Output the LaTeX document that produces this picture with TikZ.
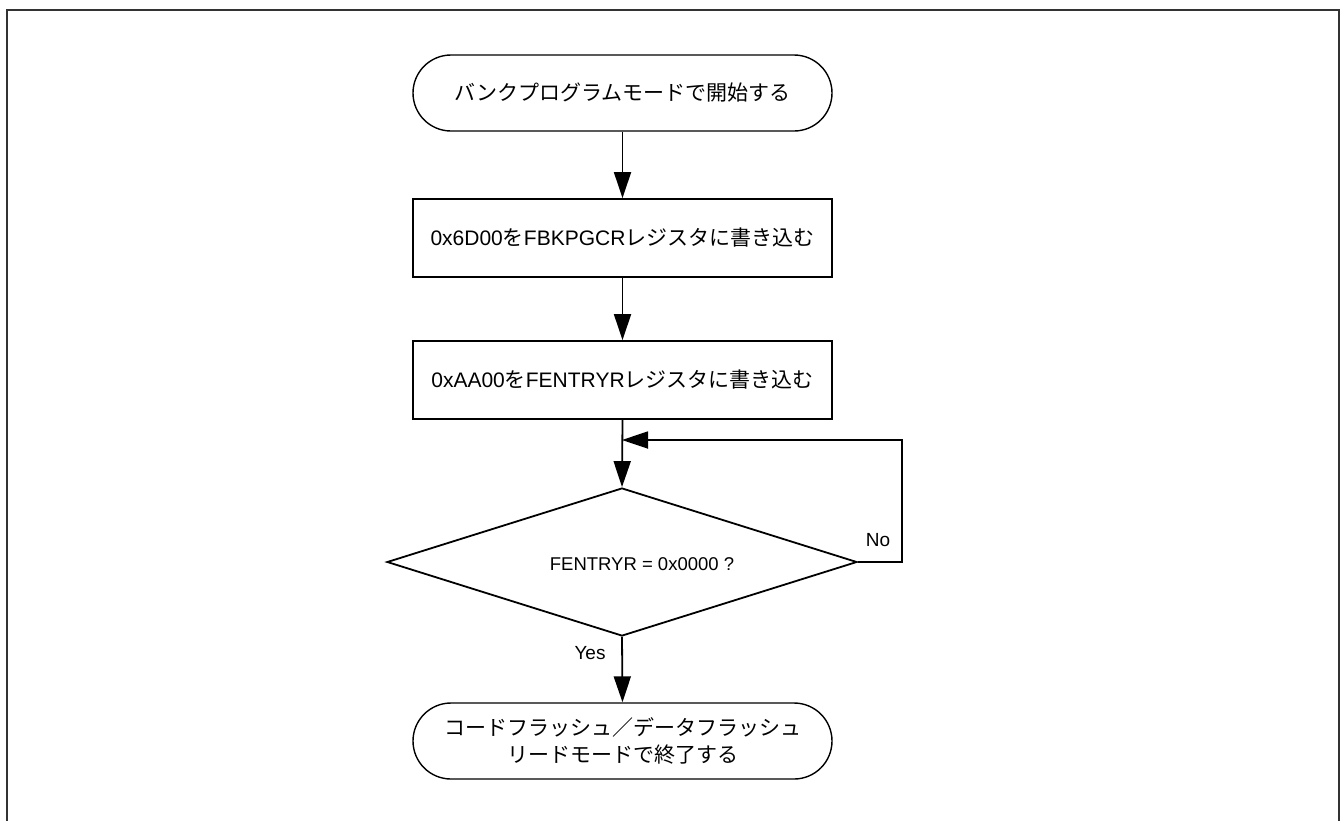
\documentclass[tikz,border=0pt]{standalone}
\usepackage{fontspec}
\setmainfont{Liberation Sans}
\newfontfamily\cjk{Noto Sans CJK JP}
\usetikzlibrary{shapes.geometric,arrows.meta}
\tikzset{
  flowline/.style={line width=1.8pt,black},
  flowarrow/.style={flowline,-{Triangle[length=26pt,width=17pt]}},
  term/.style={draw,line width=1.4pt,rounded corners=38pt,minimum width=419pt,minimum height=76pt,inner sep=0pt,align=center},
  procbox/.style={draw,line width=1.8pt,minimum width=419pt,minimum height=78pt,inner sep=0pt},
  decision/.style={draw,diamond,line width=1.8pt,minimum width=470pt,minimum height=148pt,inner sep=0pt},
  jp/.style={font=\fontsize{21}{27}\selectfont\cjk},
  lat/.style={font=\fontsize{21}{24}\selectfont},
  lbl/.style={font=\fontsize{19}{22}\selectfont,inner sep=0pt}
}
\begin{document}
\begin{tikzpicture}[x=1pt,y=-1pt]
\useasboundingbox (0,0) rectangle (1343,820);
\draw[line width=2.4pt,black!80] (7,10) rectangle (1339,840);
\node[term,jp] (start) at (622.5,93) {バンクプログラムモードで開始する};
\node[procbox,lat] (b1) at (622.5,238) {0x6D00{\fontsize{21}{24}\cjk を}FBKPGCR{\fontsize{21}{24}\cjk レジスタに書き込む}};
\node[procbox,lat] (b2) at (622.5,380) {0xAA00{\fontsize{21}{24}\cjk を}FENTRYR{\fontsize{21}{24}\cjk レジスタに書き込む}};
\node[decision] (dec) at (622,562) {};
\node[font=\fontsize{18.5}{22}\selectfont] (dect) at (642,564) {FENTRYR = 0x0000 ?};
\node[term,jp] (end) at (622.5,741) {コードフラッシュ／データフラッシュ\\リードモードで終了する};
\coordinate (loopR) at (902,440);
\coordinate (loopL) at (622,440);
\draw[flowarrow] (start.south) -- (b1.north);
\draw[flowarrow] (b1.south) -- (b2.north);
\draw[flowarrow] (b2.south) -- (dec.north);
\draw[flowarrow] (dec.east) -| (loopR) -- (loopL);
\draw[flowarrow] (dec.south) -- (end.north);
\node[lbl] (no) at (878,540) {No};
\node[lbl] (yes) at (590,653) {Yes};
\end{tikzpicture}
\end{document}
